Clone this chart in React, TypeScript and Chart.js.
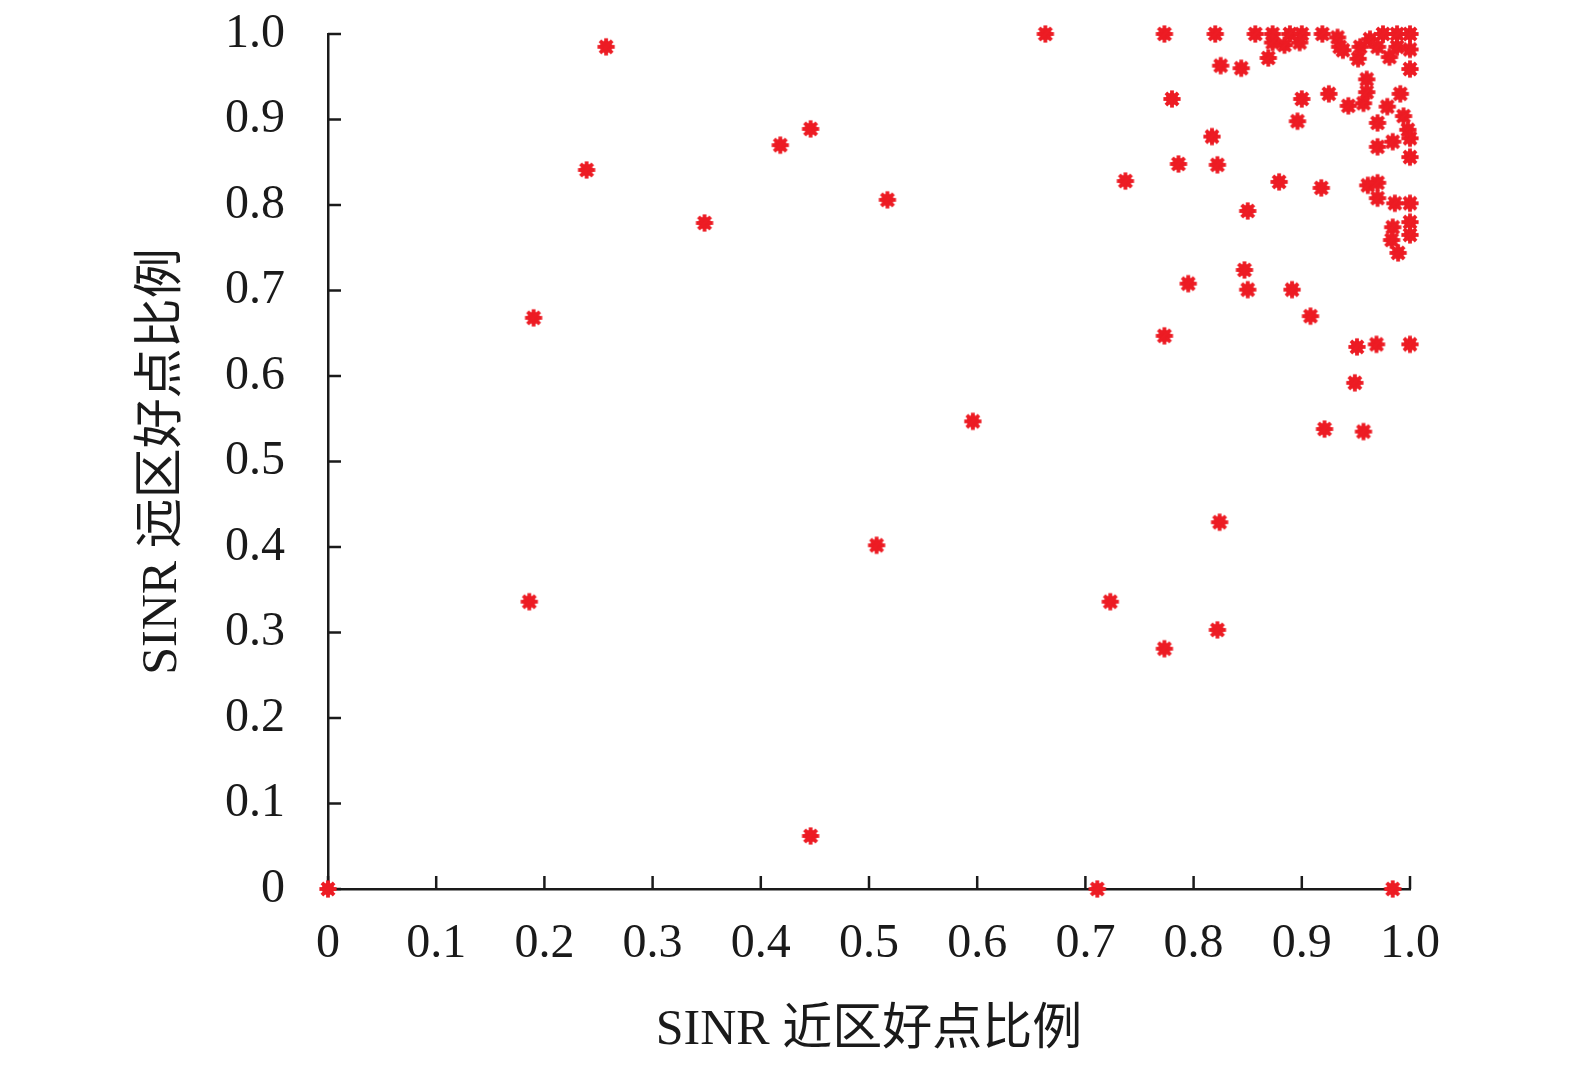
import { useEffect, useRef } from "react";
import { Chart, registerables } from "chart.js";

Chart.register(...registerables);

// near-zone good-point ratio (x) vs far-zone good-point ratio (y)
const nearRatio = [
  0, 0.186, 0.19, 0.239, 0.257, 0.348, 0.418, 0.446, 0.446, 0.507,
  0.517, 0.596, 0.663, 0.711, 0.723, 0.737, 0.773, 0.773, 0.773, 0.78,
  0.786, 0.795, 0.817, 0.82, 0.822, 0.822, 0.824, 0.825, 0.844, 0.847,
  0.85, 0.857, 0.85, 0.869, 0.879, 0.891, 0.896, 0.9, 0.908, 0.918,
  0.925, 0.921, 0.949, 0.951, 0.957, 0.969, 1.0, 0.984, 0.943, 0.957,
  0.979, 0.97, 0.994, 0.998, 1.0, 0.97, 0.984, 1.0, 0.961, 0.97,
  0.97, 0.986, 1.0, 1.0, 0.984, 1.0, 0.983, 0.989, 0.933, 0.96,
  0.96, 0.991, 1.0, 0.952, 0.981, 0.963, 0.975, 0.988, 1.0, 0.97,
  0.988, 1.0, 0.873, 0.873, 0.889, 0.884, 0.9, 0.898, 0.919, 0.935,
  0.954, 0.938,
];

const farRatio = [
  0, 0.336, 0.668, 0.841, 0.985, 0.779, 0.87, 0.889, 0.062, 0.402,
  0.806, 0.547, 1.0, 0, 0.336, 0.828, 1.0, 0.281, 0.647, 0.924,
  0.848, 0.708, 0.88, 1.0, 0.847, 0.303, 0.429, 0.963, 0.96, 0.724,
  0.701, 1.0, 0.793, 0.972, 0.827, 0.701, 0.898, 0.924, 0.67, 0.82,
  0.93, 0.538, 0.592, 0.634, 0.535, 0.637, 0.637, 0, 0.916, 0.919,
  0.915, 0.896, 0.904, 0.888, 0.878, 0.868, 0.874, 0.856, 0.823, 0.826,
  0.808, 0.802, 0.802, 0.78, 0.774, 0.765, 0.759, 0.744, 0.996, 0.947,
  0.932, 0.93, 0.959, 0.971, 0.973, 0.994, 1.0, 1.0, 1.0, 0.985,
  0.985, 0.982, 1.0, 0.99, 1.0, 0.987, 1.0, 0.99, 1.0, 0.985,
  0.985, 0.981,
];

const xTickLabels = ["0", "0.1", "0.2", "0.3", "0.4", "0.5", "0.6", "0.7", "0.8", "0.9", "1.0"];
const yTickLabels = ["0", "0.1", "0.2", "0.3", "0.4", "0.5", "0.6", "0.7", "0.8", "0.9", "1.0"];

const RED = "#ed1c24";
const INK = "#1a1a1a";
const SERIF = "'Liberation Serif', 'Times New Roman', 'Noto Sans CJK SC', serif";

// filled asterisk marker, like the MATLAB '*' drawn thick
function makeMarker(): HTMLCanvasElement {
  const c = document.createElement("canvas");
  c.width = 20;
  c.height = 20;
  const g = c.getContext("2d")!;
  g.translate(10, 10);
  g.fillStyle = RED;
  g.strokeStyle = RED;
  g.beginPath();
  g.arc(0, 0, 6.2, 0, Math.PI * 2);
  g.fill();
  g.lineWidth = 3.8;
  for (let i = 0; i < 4; i++) {
    const a = (i * Math.PI) / 4;
    g.beginPath();
    g.moveTo(-8.6 * Math.cos(a), -8.6 * Math.sin(a));
    g.lineTo(8.6 * Math.cos(a), 8.6 * Math.sin(a));
    g.stroke();
  }
  return c;
}

// tick marks pointing into the plot area
const innerTicks = {
  id: "innerTicks",
  beforeDatasetsDraw(chart: Chart) {
    const { ctx, scales } = chart;
    const xs = scales.x;
    const ys = scales.y;
    const len = 13;
    ctx.save();
    ctx.strokeStyle = INK;
    ctx.lineWidth = 2.5;
    xs.ticks.forEach((t) => {
      const px = xs.getPixelForValue(t.value);
      ctx.beginPath();
      ctx.moveTo(px, ys.bottom);
      ctx.lineTo(px, ys.bottom - len);
      ctx.stroke();
    });
    ys.ticks.forEach((t) => {
      const py = ys.getPixelForValue(t.value);
      ctx.beginPath();
      ctx.moveTo(xs.left, py);
      ctx.lineTo(xs.left + len, py);
      ctx.stroke();
    });
    ctx.restore();
  },
};

export default function App() {
  const canvasRef = useRef<HTMLCanvasElement>(null);
  const chartRef = useRef<Chart | null>(null);

  useEffect(() => {
    if (!canvasRef.current) return;
    if (chartRef.current) chartRef.current.destroy();

    const points = nearRatio.map((x, i) => ({ x, y: farRatio[i] }));
    const marker = makeMarker();

    chartRef.current = new Chart(canvasRef.current, {
      type: "scatter",
      data: {
        datasets: [
          {
            data: points,
            pointStyle: marker,
            pointRadius: 9,
            clip: false,
          },
        ],
      },
      options: {
        responsive: true,
        maintainAspectRatio: false,
        animation: false,
        layout: { padding: { top: 34, right: 165, left: 0, bottom: 0 } },
        plugins: {
          legend: { display: false },
          tooltip: { enabled: false },
        },
        scales: {
          x: {
            type: "linear",
            min: 0,
            max: 1,
            grid: { display: false, drawTicks: false },
            border: { display: true, color: INK, width: 2.5 },
            ticks: {
              stepSize: 0.1,
              padding: 27,
              color: INK,
              font: { family: SERIF, size: 48 },
              maxRotation: 0,
              callback: (_v, i) => xTickLabels[i],
            },
            title: {
              display: true,
              text: "SINR 近区好点比例",
              color: INK,
              font: { family: SERIF, size: 50 },
              padding: { top: 0, bottom: 6 },
            },
            afterFit: (scale) => {
              scale.height = 178;
              scale.paddingLeft = 0;
              scale.paddingRight = 0;
            },
          },
          y: {
            type: "linear",
            min: 0,
            max: 1,
            grid: { display: false, drawTicks: false },
            border: { display: true, color: INK, width: 2.5 },
            ticks: {
              stepSize: 0.1,
              padding: 43,
              color: INK,
              font: { family: SERIF, size: 48 },
              callback: (_v, i) => yTickLabels[i],
            },
            title: {
              display: true,
              text: "SINR 远区好点比例",
              color: INK,
              font: { family: SERIF, size: 50 },
              padding: { top: 133, bottom: 0 },
            },
            afterFit: (scale) => {
              scale.width = 328;
              scale.paddingTop = 0;
              scale.paddingBottom = 0;
            },
          },
        },
      },
      plugins: [innerTicks],
    });

    return () => {
      if (chartRef.current) {
        chartRef.current.destroy();
        chartRef.current = null;
      }
    };
  }, []);

  return (
    <div
      style={{
        position: "absolute",
        left: 0,
        top: 0,
        width: 1575,
        height: 1067,
        background: "#fff",
      }}
    >
      <canvas ref={canvasRef} />
    </div>
  );
}
